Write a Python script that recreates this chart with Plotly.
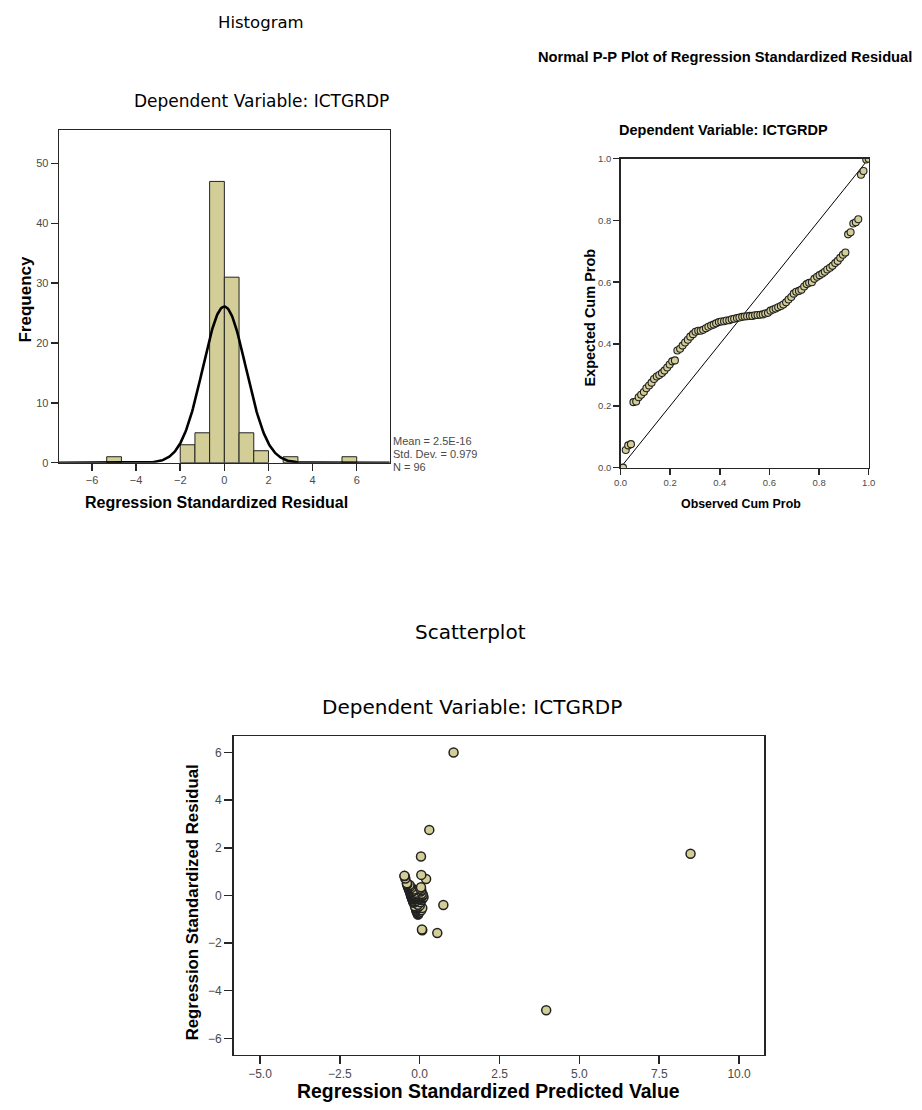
import numpy as np
import plotly.graph_objects as go

W, H = 922, 1110

# ---------------- Histogram data ----------------
hist_bin_left = [-5.333, -2.0, -1.333, -0.667, 0.0, 0.667, 1.333, 2.667, 5.333]
hist_counts = [1, 3, 5, 47, 31, 5, 2, 1, 1]
hist_bin_width = 0.667
resid_mean = 2.5e-16
resid_sd = 0.979
resid_n = 96
hist_x_ticks = [-6, -4, -2, 0, 2, 4, 6]
hist_y_ticks = [0, 10, 20, 30, 40, 50]
stats_lines = ["Mean = 2.5E-16", "Std. Dev. = 0.979", "N = 96"]

# ---------------- P-P plot data ----------------
pp_observed = [0.010, 0.021, 0.031, 0.042, 0.052, 0.063, 0.073, 0.083, 0.094, 0.104,
               0.115, 0.125, 0.135, 0.146, 0.156, 0.167, 0.177, 0.188, 0.198, 0.208,
               0.219, 0.229, 0.240, 0.250, 0.260, 0.271, 0.281, 0.292, 0.302, 0.313,
               0.323, 0.333, 0.344, 0.354, 0.365, 0.375, 0.385, 0.396, 0.406, 0.417,
               0.427, 0.438, 0.448, 0.458, 0.469, 0.479, 0.490, 0.500, 0.510, 0.521,
               0.531, 0.542, 0.552, 0.563, 0.573, 0.583, 0.594, 0.604, 0.615, 0.625,
               0.635, 0.646, 0.656, 0.667, 0.677, 0.688, 0.698, 0.708, 0.719, 0.729,
               0.740, 0.750, 0.760, 0.771, 0.781, 0.792, 0.802, 0.813, 0.823, 0.833,
               0.844, 0.854, 0.865, 0.875, 0.885, 0.896, 0.906, 0.917, 0.927, 0.938,
               0.948, 0.958, 0.969, 0.979, 0.990, 1.000]
pp_expected = [0.000, 0.057, 0.072, 0.076, 0.212, 0.214, 0.228, 0.236, 0.245, 0.257,
               0.266, 0.275, 0.287, 0.295, 0.300, 0.306, 0.314, 0.324, 0.334, 0.344,
               0.347, 0.379, 0.385, 0.395, 0.405, 0.414, 0.424, 0.432, 0.440, 0.443,
               0.443, 0.446, 0.451, 0.456, 0.460, 0.463, 0.467, 0.471, 0.473, 0.474,
               0.476, 0.477, 0.480, 0.482, 0.484, 0.486, 0.488, 0.489, 0.490, 0.491,
               0.491, 0.493, 0.494, 0.495, 0.496, 0.499, 0.501, 0.508, 0.512, 0.515,
               0.519, 0.523, 0.528, 0.535, 0.544, 0.552, 0.563, 0.569, 0.572, 0.576,
               0.586, 0.594, 0.598, 0.600, 0.611, 0.618, 0.623, 0.628, 0.634, 0.641,
               0.647, 0.653, 0.662, 0.669, 0.679, 0.689, 0.696, 0.755, 0.762, 0.790,
               0.794, 0.804, 0.948, 0.960, 0.997, 1.000]
pp_diag = [0.0, 1.0]
pp_ticks = [0.0, 0.2, 0.4, 0.6, 0.8, 1.0]

# ---------------- Scatterplot data ----------------
scatter_residual = [-4.82, -1.58, -1.46, -1.43, -0.80, -0.79, -0.745, -0.72, -0.69, -0.65,
                    -0.625, -0.60, -0.56, -0.54, -0.525, -0.51, -0.485, -0.455, -0.43, -0.40,
                    -0.395, -0.31, -0.29, -0.265, -0.24, -0.22, -0.19, -0.17, -0.15, -0.145,
                    -0.145, -0.135, -0.125, -0.11, -0.10, -0.095, -0.085, -0.075, -0.07, -0.065,
                    -0.06, -0.058, -0.05, -0.045, -0.04, -0.035, -0.03, -0.028, -0.025, -0.023,
                    -0.023, -0.018, -0.015, -0.013, -0.01, -0.003, 0.003, 0.02, 0.03, 0.038,
                    0.048, 0.058, 0.07, 0.088, 0.11, 0.13, 0.16, 0.175, 0.18, 0.19,
                    0.22, 0.24, 0.25, 0.255, 0.28, 0.30, 0.315, 0.325, 0.34, 0.36,
                    0.375, 0.395, 0.42, 0.44, 0.465, 0.49, 0.51, 0.69, 0.71, 0.81,
                    0.82, 0.86, 1.63, 1.75, 2.75, 6.0]
scatter_predicted = [3.96, 0.55, 0.08, 0.07, -0.05, -0.06, -0.07, -0.02, -0.09, -0.10,
                     0.05, -0.11, -0.08, -0.12, 0.08, -0.13, -0.05, -0.15, 0.00, 0.74,
                     -0.06, -0.19, 0.02, -0.20, -0.12, -0.21, 0.06, -0.22, -0.10, -0.23,
                     0.03, -0.17, -0.24, 0.09, -0.20, -0.24, -0.05, 0.12, -0.25, -0.15,
                     0.00, -0.22, -0.25, 0.05, -0.12, -0.26, -0.18, 0.08, -0.23, -0.07,
                     -0.26, 0.02, -0.21, -0.14, -0.26, 0.04, -0.27, -0.19, 0.10, -0.28,
                     -0.08, -0.24, 0.06, -0.29, -0.12, -0.30, 0.03, -0.31, -0.20, -0.31,
                     0.05, -0.33, -0.18, -0.33, 0.02, -0.35, -0.26, -0.35, 0.04, -0.36,
                     -0.30, -0.37, -0.38, -0.32, -0.39, -0.40, -0.40, 0.20, -0.45, -0.47,
                     -0.48, 0.05, 0.04, 8.48, 0.30, 1.06]
sc_x_ticks = [-5.0, -2.5, 0.0, 2.5, 5.0, 7.5, 10.0]
sc_y_ticks = [-6, -4, -2, 0, 2, 4, 6]

# ---------------- styles ----------------
FILL = "#D3CE97"
EDGE = "#222222"
TICKC = "#4a4a4a"
FRAME = "#262626"
SANS = "Liberation Sans"
WIDE = "DejaVu Sans"


def px(x):
    return x / W


def py(y):
    return 1 - y / H


# normal curve from the printed statistics
curve_x = np.linspace(-7.5, 7.5, 401)
curve_y = resid_n * hist_bin_width * np.exp(-0.5 * ((curve_x - resid_mean) / resid_sd) ** 2) / (resid_sd * np.sqrt(2 * np.pi))

fig = go.Figure()

fig.add_trace(go.Bar(
    x=hist_bin_left, y=hist_counts, width=[hist_bin_width] * len(hist_counts), offset=0,
    marker=dict(color=FILL, line=dict(color=EDGE, width=1)),
    xaxis="x", yaxis="y", showlegend=False, hoverinfo="skip"))
fig.add_trace(go.Scatter(
    x=curve_x, y=curve_y, mode="lines", line=dict(color="black", width=2.6),
    xaxis="x", yaxis="y", showlegend=False, hoverinfo="skip"))

fig.add_trace(go.Scatter(
    x=pp_diag, y=pp_diag, mode="lines", line=dict(color="black", width=1),
    xaxis="x2", yaxis="y2", showlegend=False, hoverinfo="skip"))
fig.add_trace(go.Scatter(
    x=pp_observed, y=pp_expected, mode="markers",
    marker=dict(size=7, color=FILL, line=dict(color=EDGE, width=1.1)),
    xaxis="x2", yaxis="y2", showlegend=False, hoverinfo="skip"))

fig.add_trace(go.Scatter(
    x=scatter_predicted, y=scatter_residual, mode="markers",
    marker=dict(size=9, color=FILL, line=dict(color=EDGE, width=1.5)),
    xaxis="x3", yaxis="y3", showlegend=False, hoverinfo="skip"))


def axis(domain, rng, ticks, anchor, fmt=None, tsize=11, tlen=7):
    d = dict(domain=domain, range=rng, tickvals=ticks, anchor=anchor,
             showline=True, mirror=True, linecolor=FRAME, linewidth=1.3,
             ticks="outside", ticklen=tlen, tickwidth=1.5, tickcolor=FRAME,
             showgrid=False, zeroline=False,
             tickfont=dict(family=SANS, size=tsize, color=TICKC), fixedrange=True)
    if fmt:
        d["tickformat"] = fmt
    return d


layout = dict(
    width=W, height=H, margin=dict(l=0, r=0, t=0, b=0),
    paper_bgcolor="white", plot_bgcolor="white", bargap=0,
    xaxis=axis([px(52.7), px(388.7)], [-7.5, 7.5], hist_x_ticks, "y", tsize=11),
    yaxis=axis([py(461.7), py(125.3)], [0, 55.6], hist_y_ticks, "x", tsize=11),
    xaxis2=axis([px(623), px(875)], [0, 1], pp_ticks, "y2", fmt=".1f", tsize=9.5, tlen=6),
    yaxis2=axis([py(466.7), py(154.3)], [0, 1], pp_ticks, "x2", fmt=".1f", tsize=9.5, tlen=6),
    xaxis3=axis([px(230), px(769)], [-5.83, 10.79], sc_x_ticks, "y3", fmt=".1f", tsize=12, tlen=8),
    yaxis3=axis([py(1060), py(738)], [-6.68, 6.69], sc_y_ticks, "x3", tsize=12, tlen=8),
)


def ann(text, x, y, size, family=SANS, angle=0, xanchor="center", color="black", bold=True):
    if bold:
        text = "<b>" + text + "</b>"
    return dict(text=text, x=px(x), y=py(y), xref="paper", yref="paper",
                xanchor=xanchor, yanchor="middle", showarrow=False, textangle=angle,
                font=dict(family=family, size=size, color=color))


annotations = [
    # histogram
    ann("Histogram", 258, 17, 16.5, family=WIDE, bold=False),
    ann("Dependent Variable: ICTGRDP", 258, 96, 17, family=WIDE, bold=False),
    ann("Frequency", 19, 296, 17, angle=-90),
    ann("Regression Standardized Residual", 213, 502, 16),
    # P-P plot
    ann("Normal P-P Plot of Regression Standardized Residual", 729, 52, 14.7),
    ann("Dependent Variable: ICTGRDP", 728, 125, 14.5),
    ann("Expected Cum Prob", 592, 315, 14.5, angle=-90),
    ann("Observed Cum Prob", 745, 503, 12.4),
    # scatterplot
    ann("Scatterplot", 471, 633, 20, family=WIDE, bold=False),
    ann("Dependent Variable: ICTGRDP", 472, 709, 20, family=WIDE, bold=False),
    ann("Regression Standardized Residual", 188, 906, 16.8, angle=-90),
    ann("Regression Standardized Predicted Value", 489, 1097, 19.4),
]
for i, line in enumerate(stats_lines):
    annotations.append(ann(line, 390, 440 + 13 * i, 11, xanchor="left", color=TICKC, bold=False))

layout["annotations"] = annotations
fig.update_layout(**layout)
fig.write_html(
    "out.html",
    config={"displayModeBar": False, "staticPlot": True},
    post_script="document.body.style.margin='0';document.body.style.padding='0';",
)
